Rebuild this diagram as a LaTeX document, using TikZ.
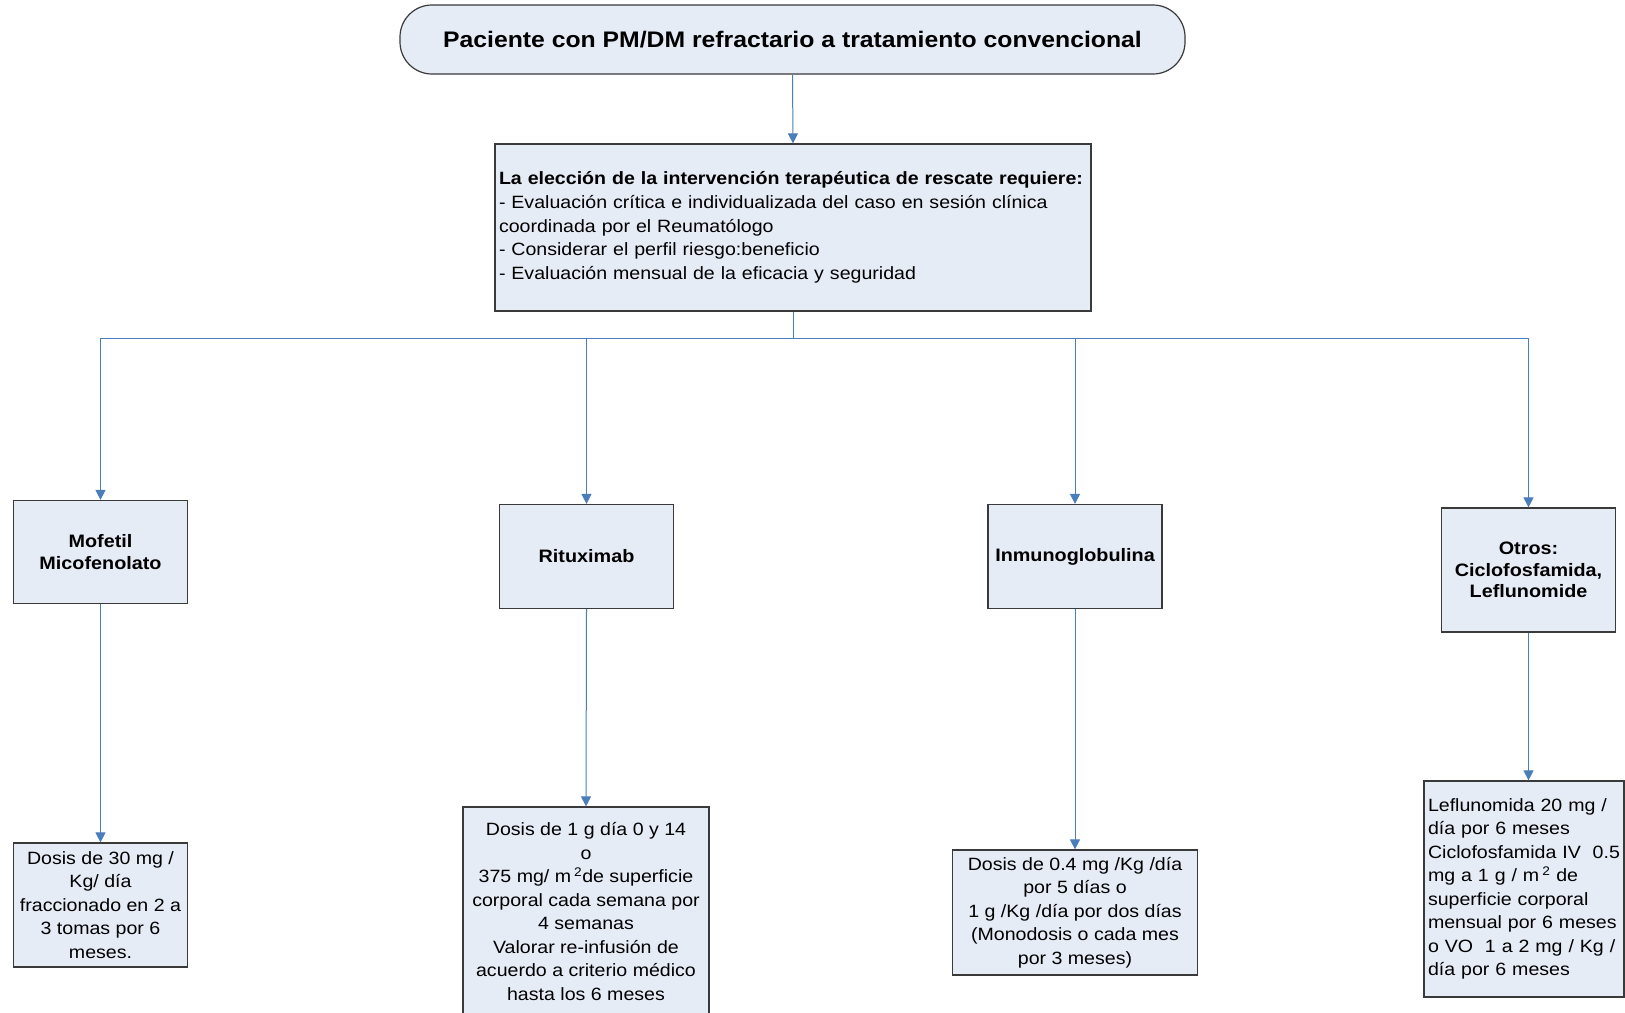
\documentclass[tikz,border=0pt]{standalone}
\usepackage{fontspec}
\setmainfont[FakeStretch=1.1]{Liberation Sans}
\usetikzlibrary{arrows.meta}
\definecolor{conn}{HTML}{4A7EBB}
\definecolor{boxfill}{HTML}{E6ECF6}
\definecolor{boxdraw}{HTML}{3A3A3A}
\tikzset{
  box/.style={draw=boxdraw, line width=1.2pt, fill=boxfill, inner sep=4pt},
  drug/.style={box, align=center, font=\fontsize{18}{21.5}\selectfont\bfseries},
  dose/.style={box, align=center, font=\fontsize{17.8}{23.5}\selectfont},
  link/.style={draw=conn, line width=1pt},
  arr/.style={link, -{Triangle[width=10pt,length=10pt]}}
}
\begin{document}
\begin{tikzpicture}[x=1pt,y=-1pt]
\useasboundingbox (0,0) rectangle (1625,1012);
\fill[white] (0,0) rectangle (1625,1012);

\node[box, rounded corners=32pt, minimum width=785pt, minimum height=69pt,
      font=\fontsize{22.5}{26}\selectfont\bfseries] (top) at (792.5,39.5)
  {Paciente con PM/DM refractario a tratamiento convencional};

\node[box, minimum width=596pt, minimum height=167pt, text width=588pt, align=left,
      font=\fontsize{17.8}{23.8}\selectfont] (mid) at (793,227.5)
  {\textbf{La elección de la intervención terapéutica de rescate requiere:}\\
   - Evaluación crítica e individualizada del caso en sesión clínica\\
   coordinada por el Reumatólogo\\
   - Considerar el perfil riesgo:beneficio\\
   - Evaluación mensual de la eficacia y seguridad};

\node[drug, minimum width=174pt, minimum height=103pt] (mof) at (100.5,552) {Mofetil\\Micofenolato};
\node[drug, minimum width=174pt, minimum height=104pt] (rit) at (586.5,556.5) {Rituximab};
\node[drug, minimum width=174pt, minimum height=104pt] (inm) at (1075,556.5) {Inmunoglobulina};
\node[drug, minimum width=174pt, minimum height=124pt] (otr) at (1528.5,570) {Otros:\\Ciclofosfamida,\\Leflunomide};

\node[dose, minimum width=174pt, minimum height=124pt] (mofd) at (100.5,905)
  {Dosis de 30 mg /\\Kg/ día\\fraccionado en 2 a\\3 tomas por 6\\meses.};
\node[dose, minimum width=246pt, minimum height=209pt] (ritd) at (586,911.5)
  {Dosis de 1 g día 0 y 14\\o\\375 mg/ m\,\textsuperscript{2}de superficie\\corporal cada semana por\\4 semanas\\Valorar re-infusión de\\acuerdo a criterio médico\\hasta los 6 meses};
\node[dose, minimum width=245pt, minimum height=125pt] (inmd) at (1075,912.5)
  {Dosis de 0.4 mg /Kg /día\\por 5 días o\\1 g /Kg /día por dos días\\(Monodosis o cada mes\\por 3 meses)};
\node[dose, align=left, minimum width=200pt, minimum height=216pt, text width=192pt] (otrd) at (1524,889)
  {Leflunomida 20 mg /\\día por 6 meses\\Ciclofosfamida IV\ \ 0.5\\mg a 1 g / m\,\textsuperscript{2} de\\superficie corporal\\mensual por 6 meses\\o VO\ \ 1 a 2 mg / Kg /\\día por 6 meses};

\draw[arr] (top.south) -- (mid.north);
\coordinate (bus) at (793,338);
\draw[link] (mid.south) -- (bus);
\draw[arr] (bus) -| (mof.north);
\draw[arr] (bus) -| (rit.north);
\draw[arr] (bus) -| (inm.north);
\draw[arr] (bus) -| (otr.north);

\draw[arr] (mof.south) -- (mofd.north);
\draw[arr] (rit.south) -- (ritd.north);
\draw[arr] (inm.south) -- (inmd.north);
\draw[arr] (otr.south) -- (otr.south |- otrd.north);
\end{tikzpicture}
\end{document}
